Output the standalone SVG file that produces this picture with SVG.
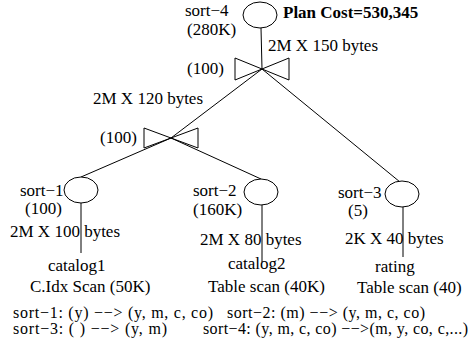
<svg xmlns="http://www.w3.org/2000/svg" width="471" height="353" viewBox="0 0 471 353">
<style>
text{font-family:"Liberation Serif","Times New Roman",serif;font-size:17px;fill:#000}
.b{font-weight:bold}
.l{font-size:16px}
.n{fill:#fff;stroke:#000;stroke-width:1}
.e{stroke:#000;stroke-width:1;fill:none}
</style>
<rect width="471" height="353" fill="#fff"/>
<g id="connectors">
<line class="e" x1="261" y1="28" x2="262" y2="69"/>
<line class="e" x1="262" y1="69" x2="171" y2="138"/>
<line class="e" x1="262" y1="69" x2="400" y2="182"/>
<line class="e" x1="171" y1="138" x2="81" y2="177"/>
<line class="e" x1="171" y1="138" x2="261" y2="179"/>
<line class="e" x1="81" y1="203" x2="81" y2="253"/>
<line class="e" x1="262" y1="205" x2="262" y2="262"/>
<line class="e" x1="403" y1="207" x2="403" y2="257"/>
</g>
<g id="sort4">
<ellipse class="n" cx="260" cy="15" rx="17" ry="13"/>
<text x="185" y="16">sort&#8722;4</text>
<text x="187" y="35">(280K)</text>
<text class="b" x="283" y="18">Plan Cost=530,345</text>
</g>
<g id="join1">
<path class="e" d="M262,69 L235,58 L235,80 Z M262,69 L289,58 L289,80 Z"/>
<text x="187" y="74">(100)</text>
<text x="268" y="51">2M X 150 bytes</text>
</g>
<g id="join2">
<path class="e" d="M171,138 L144,128 L144,148 Z M171,138 L198,128 L198,148 Z"/>
<text x="100" y="143">(100)</text>
<text x="93" y="104">2M X 120 bytes</text>
</g>
<g id="sort1">
<ellipse class="n" cx="81" cy="190" rx="17" ry="13"/>
<text x="20" y="196">sort&#8722;1</text>
<text x="25" y="214">(100)</text>
<text x="10" y="237">2M X 100 bytes</text>
</g>
<g id="sort2">
<ellipse class="n" cx="261" cy="192" rx="17" ry="13"/>
<text x="193" y="196">sort&#8722;2</text>
<text x="193" y="215">(160K)</text>
<text x="200" y="245">2M X 80 bytes</text>
</g>
<g id="sort3">
<ellipse class="n" cx="402" cy="194" rx="17" ry="13"/>
<text x="338" y="198">sort&#8722;3</text>
<text x="348" y="216">(5)</text>
<text x="345" y="244">2K X 40 bytes</text>
</g>
<g id="catalog1">
<text x="48" y="271">catalog1</text>
<text x="30" y="292">C.Idx Scan (50K)</text>
</g>
<g id="catalog2">
<text x="228" y="269">catalog2</text>
<text x="208" y="292">Table scan (40K)</text>
</g>
<g id="rating">
<text x="375" y="272">rating</text>
<text x="357" y="293">Table scan (40)</text>
</g>
<g id="legend">
<text class="l" x="13" y="318" textLength="200" lengthAdjust="spacing">sort&#8722;1: (y) &#8722;&#8722;&gt; (y, m, c, co)</text>
<text class="l" x="227" y="318" textLength="198" lengthAdjust="spacing">sort&#8722;2: (m) &#8722;&#8722;&gt; (y, m, c, co)</text>
<text class="l" x="13" y="334" textLength="154" lengthAdjust="spacing">sort&#8722;3: ( ) &#8722;&#8722;&gt; (y, m)</text>
<text class="l" x="203" y="334" textLength="265" lengthAdjust="spacing">sort&#8722;4: (y, m, c, co) &#8722;&#8722;&gt;(m, y, co, c,...)</text>
</g>
</svg>
